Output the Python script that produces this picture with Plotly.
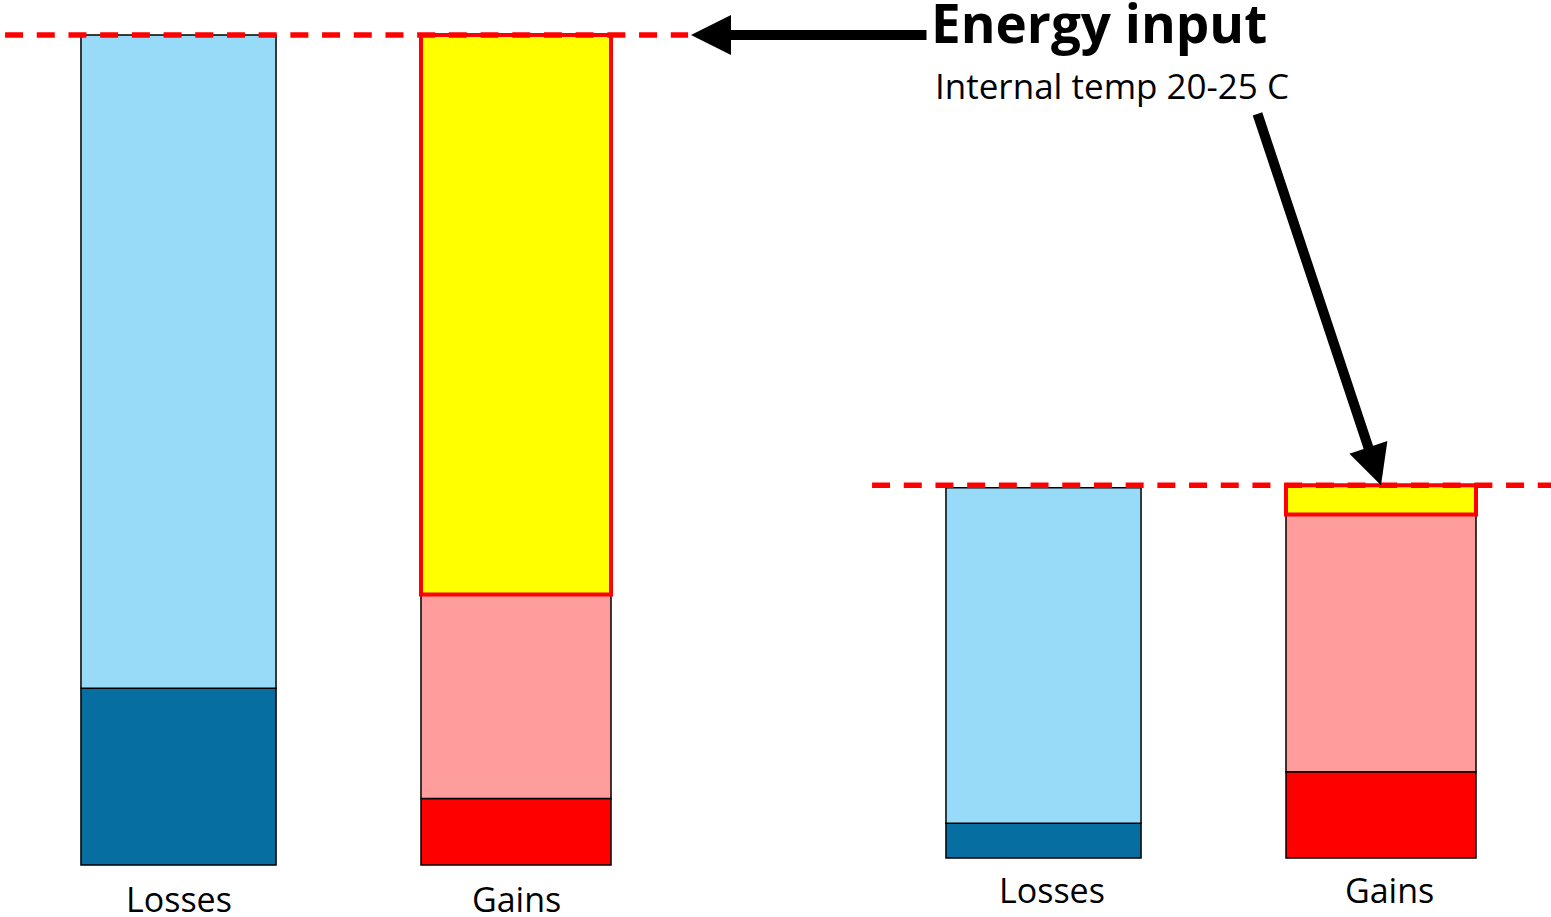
import numpy as np
import plotly.graph_objects as go

# ---------------- data ----------------
groups = ["Before", "After"]
categories = ["Losses", "Gains"]
group_base = [0.0, 0.84]          # baseline of each group (energy units)

loss_dark = [21.3, 4.2]           # dark blue losses
loss_light = [78.7, 40.4]         # light blue losses
gain_red = [8.0, 10.4]            # red gains
gain_pink = [24.6, 31.0]          # pink gains
gain_yellow = [67.4, 3.5]         # energy input (yellow)

title_text = "Energy input"
subtitle_text = "Internal temp 20-25 C"

# ---------------- layout helpers ----------------
W, H = 1551, 917
loss_pos = np.array([0.0, 2.563])
gain_pos = np.array([1.0, 3.563])
loss_w, gain_w = 0.578, 0.563
xr = [-0.5289, 4.0667]
yr = [-6.265, 104.22]

C_LIGHT = "#97DBF8"
C_DARK = "#066EA0"
C_PINK = "#FF9C9C"
C_RED = "#FF0000"
C_YEL = "#FFFF00"

base = np.array(group_base)
ld = np.array(loss_dark); ll = np.array(loss_light)
gr = np.array(gain_red); gp = np.array(gain_pink); gy = np.array(gain_yellow)

fig = go.Figure()
blk = dict(color="black", width=1.5)


def add(x, y, b, w, color, line):
    fig.add_trace(go.Bar(x=x, y=y, base=b, width=w, marker=dict(color=color, line=line),
                         showlegend=False, hoverinfo="skip"))


add(loss_pos, ld, base, loss_w, C_DARK, blk)
add(loss_pos, ll, base + ld, loss_w, C_LIGHT, blk)
add(gain_pos, gr, base, gain_w, C_RED, blk)
add(gain_pos, gp, base + gr, gain_w, C_PINK, blk)
add(gain_pos, gy, base + gr + gp, gain_w, C_YEL, dict(color=C_RED, width=4))

loss_tot = base + ld + ll
gain_tot = base + gr + gp + gy

# dashed energy-level lines
dash = "18px,13.7px"
fig.add_shape(type="line", xref="x", yref="y", x0=xr[0] + 0.015, x1=gain_pos[0] + 0.51,
              y0=max(loss_tot[0], gain_tot[0]), y1=max(loss_tot[0], gain_tot[0]),
              line=dict(color=C_RED, width=5.5, dash=dash))
fig.add_shape(type="line", xref="x", yref="y", x0=loss_pos[1] - 0.508, x1=xr[1],
              y0=max(loss_tot[1], gain_tot[1]), y1=max(loss_tot[1], gain_tot[1]),
              line=dict(color=C_RED, width=5.5, dash=dash))

# arrows
fig.add_annotation(x=gain_pos[0] + 0.5185, y=gain_tot[0], xref="x", yref="y", text="",
                   showarrow=True, arrowhead=2, arrowwidth=10, arrowsize=0.8,
                   arrowcolor="black", ax=237, ay=0, standoff=0)
fig.add_annotation(x=gain_pos[1], y=gain_tot[1], xref="x", yref="y", text="",
                   showarrow=True, arrowhead=2, arrowwidth=10, arrowsize=0.8,
                   arrowcolor="black", ax=-124, ay=-373, standoff=0)

# texts
fig.add_annotation(x=929 / W, y=1.0, xref="paper", yref="paper", text=title_text,
                   showarrow=False, xanchor="left", yanchor="top", height=57, valign="bottom",
                   font=dict(family="Open Sans", size=53, color="black", weight="bold"))
fig.add_annotation(x=933 / W, y=1 - 60 / H, xref="paper", yref="paper", text=subtitle_text,
                   showarrow=False, xanchor="left", yanchor="top",
                   font=dict(family="Open Sans", size=35, color="black"))

for gi in range(len(groups)):
    shift = 8 if gi == 1 else 0
    for pos, cat in zip([loss_pos[gi], gain_pos[gi]], categories):
        fig.add_annotation(x=pos, y=base[gi], xref="x", yref="y", text=cat, showarrow=False,
                           xanchor="center", yanchor="top", yshift=-9 if gi == 0 else -7,
                           xshift=shift, height=38, valign="top",
                           font=dict(family="Open Sans", size=34, color="black"))

fig.update_layout(
    width=W, height=H, margin=dict(l=0, r=0, t=0, b=0),
    paper_bgcolor="white", plot_bgcolor="white", barmode="overlay",
    xaxis=dict(range=xr, visible=False, fixedrange=True),
    yaxis=dict(range=yr, visible=False, fixedrange=True),
)
fig.write_html("out.html", config={"displayModeBar": False},
               post_script="document.body.style.margin='0';document.body.style.overflow='hidden';")
